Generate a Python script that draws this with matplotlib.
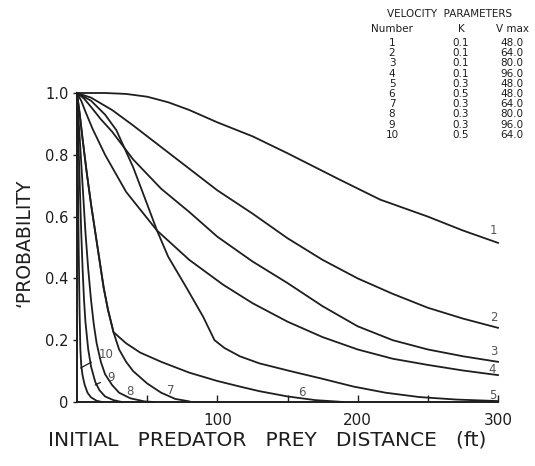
import matplotlib
matplotlib.use("Agg")
import matplotlib.pyplot as plt

# Probability vs. initial predator-prey distance for ten velocity settings
curve_ids = ["1", "2", "3", "4", "5", "6", "7", "8", "9", "10"]
k_values = ["0.1", "0.1", "0.1", "0.1", "0.3", "0.5", "0.3", "0.3", "0.3", "0.5"]
vmax_values = ["48.0", "64.0", "80.0", "96.0", "48.0", "48.0", "64.0", "80.0", "96.0", "64.0"]

c1_x = [0, 20, 35, 50, 65, 80, 100, 125, 150, 187, 216, 250, 275, 300]
c1_y = [1.0, 1.0, 0.997, 0.988, 0.97, 0.945, 0.905, 0.86, 0.805, 0.72, 0.655, 0.60, 0.555, 0.515]

c2_x = [0, 10, 25, 40, 60, 80, 100, 125, 150, 175, 200, 225, 250, 275, 300]
c2_y = [1.0, 0.985, 0.945, 0.895, 0.825, 0.755, 0.685, 0.61, 0.53, 0.46, 0.40, 0.35, 0.305, 0.27, 0.24]

c3_x = [0, 5, 10, 17, 25, 40, 60, 80, 100, 125, 150, 175, 200, 225, 250, 275, 300]
c3_y = [1.0, 0.982, 0.955, 0.915, 0.875, 0.785, 0.69, 0.615, 0.535, 0.455, 0.385, 0.31,
        0.245, 0.20, 0.17, 0.148, 0.13]

c4_x = [0, 3, 6, 11, 20, 35, 57, 80, 104, 125, 150, 175, 200, 225, 250, 275, 300]
c4_y = [1.0, 0.975, 0.94, 0.885, 0.80, 0.68, 0.555, 0.46, 0.38, 0.32, 0.26, 0.21, 0.17,
        0.14, 0.12, 0.102, 0.087]

c5_x = [0, 10, 20, 28, 33, 40, 50, 57, 65, 78, 90, 98, 105, 116, 130, 152, 175, 197, 220,
        244, 270, 300]
c5_y = [1.0, 0.975, 0.93, 0.88, 0.83, 0.76, 0.64, 0.555, 0.47, 0.37, 0.275, 0.2, 0.175,
        0.148, 0.125, 0.10, 0.075, 0.05, 0.03, 0.016, 0.008, 0.003]

c6_x = [0, 2, 4, 7, 10, 13, 16, 19, 22, 26, 35, 45, 60, 80, 100, 116, 130, 150, 170, 190]
c6_y = [1.0, 0.93, 0.85, 0.74, 0.64, 0.55, 0.46, 0.37, 0.30, 0.226, 0.19, 0.16, 0.13, 0.095,
        0.068, 0.05, 0.035, 0.018, 0.006, 0.0]

c7_x = [0, 2, 4, 7, 10, 13, 16, 19, 22, 26, 30, 35, 40, 50, 60, 70, 80]
c7_y = [1.0, 0.93, 0.85, 0.74, 0.64, 0.55, 0.46, 0.37, 0.30, 0.226, 0.17, 0.13, 0.10, 0.06,
        0.03, 0.01, 0.002]

c8_x = [0, 2, 4, 6, 8, 10, 12, 14, 17, 20, 25, 30, 38, 48, 55]
c8_y = [1.0, 0.85, 0.70, 0.55, 0.43, 0.33, 0.25, 0.19, 0.13, 0.09, 0.055, 0.03, 0.012, 0.002, 0.0]

c9_x = [0, 1, 2, 3, 4, 5, 6, 8, 10, 13, 16, 20, 26, 32]
c9_y = [1.0, 0.85, 0.70, 0.55, 0.43, 0.33, 0.26, 0.17, 0.115, 0.065, 0.038, 0.018, 0.006, 0.0]

c10_x = [0, 0.6, 1.2, 1.8, 2.4, 3, 4, 5.5, 7.5, 10, 14, 18]
c10_y = [1.0, 0.75, 0.50, 0.30, 0.17, 0.12, 0.085, 0.055, 0.03, 0.015, 0.004, 0.0]

curves_x = [c1_x, c2_x, c3_x, c4_x, c5_x, c6_x, c7_x, c8_x, c9_x, c10_x]
curves_y = [c1_y, c2_y, c3_y, c4_y, c5_y, c6_y, c7_y, c8_y, c9_y, c10_y]

W, H = 535, 466
fig = plt.figure(figsize=(W / 100, H / 100), dpi=100)
fig.patch.set_facecolor("white")

left, right, bottom, top = 77, 498, 402, 93
ax = fig.add_axes([left / W, 1 - bottom / H, (right - left) / W, (bottom - top) / H])

ink = "#1e1e1e"
for xs, ys in zip(curves_x, curves_y):
    ax.plot(xs, ys, color=ink, lw=1.3, clip_on=False, solid_joinstyle="round")

ax.set_xlim(0, 300)
ax.set_ylim(0, 1.0)
for s in ("top", "right"):
    ax.spines[s].set_visible(False)
for s in ("left", "bottom"):
    ax.spines[s].set_linewidth(1.4)
    ax.spines[s].set_color(ink)

ax.set_xticks([100, 200, 300])
ax.set_xticklabels(["100", "200", "300"])
ax.set_xticks([50, 150, 250], minor=True)
ax.tick_params(axis="x", which="both", direction="in", length=5, width=1.0,
               labelsize=11, pad=8, colors=ink)
ax.set_yticks([0, 0.2, 0.4, 0.6, 0.8, 1.0])
ax.set_yticklabels(["0", "0.2", "0.4", "0.6", "0.8", "1.0"])
ax.tick_params(axis="y", direction="out", length=3, width=1.0, labelsize=10.5,
               pad=3, colors=ink)

# axis titles
fig.text(267 / W, 1 - 440 / H, "INITIAL   PREDATOR   PREY   DISTANCE   (ft)",
         fontsize=14.5, color=ink, ha="center", va="center")
fig.text(24 / W, 1 - 243 / H, "\u2018PROBABILITY", fontsize=13.5, color=ink,
         rotation=90, ha="center", va="center")

# curve numbers
lab_col = "#555555"
lab_pos = {"1": (297, 0.555), "2": (297, 0.275), "3": (297, 0.165), "4": (296, 0.105),
           "5": (296, 0.022), "6": (160, 0.032), "7": (67, 0.038), "8": (38, 0.035)}
for name, (lx, ly) in lab_pos.items():
    ax.text(lx, ly, name, fontsize=8.5, color=lab_col, ha="center", va="center")
ax.annotate("9", xy=(13, 0.055), xytext=(24, 0.08), fontsize=8.5, color=lab_col,
            ha="center", va="center",
            arrowprops=dict(arrowstyle="-", color=ink, lw=0.9, shrinkA=3, shrinkB=0))
ax.annotate("10", xy=(2.5, 0.11), xytext=(21, 0.155), fontsize=8.5, color=lab_col,
            ha="center", va="center",
            arrowprops=dict(arrowstyle="-", color=ink, lw=0.9, shrinkA=4, shrinkB=0))

# parameter table
def ft(px, py, s, **kw):
    fig.text(px / W, 1 - py / H, s, color=ink, va="center", **kw)

ft(450, 14, "VELOCITY  PARAMETERS", fontsize=7.5, ha="center")
ft(392, 29, "Number", fontsize=7.5, ha="center")
ft(461, 29, "K", fontsize=7.5, ha="center")
ft(512, 29, "V max", fontsize=7.5, ha="center")
for i, (cid, kv, vm) in enumerate(zip(curve_ids, k_values, vmax_values)):
    py = 43 + 10.2 * i
    ft(392, py, cid, fontsize=7.5, ha="center")
    ft(461, py, kv, fontsize=7.5, ha="center")
    ft(512, py, vm, fontsize=7.5, ha="center")

fig.savefig("out.png", dpi=100, facecolor="white")
